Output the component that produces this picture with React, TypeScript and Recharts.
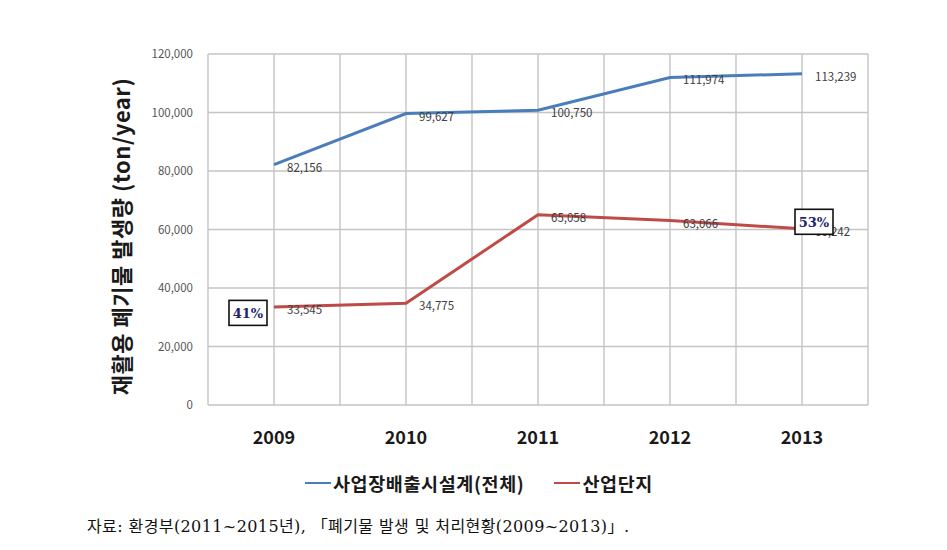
import React from "react";
import { LineChart, Line, XAxis, YAxis, CartesianGrid, Legend, LabelList } from "recharts";

const years = ["2009", "2010", "2011", "2012", "2013"];
const totalSeries = [82156, 99627, 100750, 111974, 113239];
const parkSeries = [33545, 34775, 65058, 63066, 60242];
const shareLabels = ["41%", "", "", "", "53%"];
const yTicks = [0, 20000, 40000, 60000, 80000, 100000, 120000];

const C = {
  blue: "#4a7ebb",
  red: "#be4b48",
  grid: "#c4c4c4",
  text: "#404040",
  navy: "#1f1f6e",
};
const FONT = "'Noto Sans CJK KR', 'Noto Sans', sans-serif";

const data = years.map((y, i) => ({ year: y, total: totalSeries[i], park: parkSeries[i], share: shareLabels[i] }));

const fmt = (v: number) => Number(v).toLocaleString("en-US");

// 값 라벨: 점의 오른쪽에 붙임
const valueLabel = (p: any) => {
  const { x, y, value } = p;
  return (
    <text x={x + 13} y={y + 2} dominantBaseline="central" fontSize={11.5} fill={C.text} fontFamily={FONT}>
      {fmt(value)}
    </text>
  );
};

// 비율 상자 (첫 점은 왼쪽, 마지막 점은 오른쪽 위)
const shareBox = (p: any) => {
  const { x, y, value, index } = p;
  if (!value) return null;
  const cx = index === 0 ? x - 26 : x + 12;
  const cy = index === 0 ? y + 6 : y - 7;
  return (
    <g>
      <rect x={cx - 19} y={cy - 12.5} width={38} height={25} fill="#fff" stroke="#111" strokeWidth={1.6} />
      <text x={cx} y={cy + 1} textAnchor="middle" dominantBaseline="central" fontSize={13} fontWeight="bold"
        fill={C.navy} fontFamily="'DejaVu Serif', serif">
        {value}
      </text>
    </g>
  );
};

const yLabel = (p: any) => {
  const vb = p.viewBox || {};
  const cx = vb.x + 32;
  const cy = vb.y + vb.height / 2 + 7;
  return (
    <text x={cx} y={cy} transform={`rotate(-90, ${cx}, ${cy})`} textAnchor="middle" dominantBaseline="central"
      fontSize={22} fontWeight="bold" fill="#1a1a1a" fontFamily={FONT} letterSpacing={0.5}>
      재활용 폐기물 발생량 (ton/year)
    </text>
  );
};

const legendContent = (p: any) => (
  <div style={{ display: "flex", alignItems: "center", fontFamily: FONT, fontSize: 18.5, fontWeight: "bold", color: "#1a1a1a", letterSpacing: 0.6 }}>
    {(p.payload || []).map((it: any) => (
      <div key={it.value} style={{ display: "flex", alignItems: "center", marginRight: 30 }}>
        <span style={{ display: "inline-block", width: 26, height: 2.5, background: it.color, marginRight: 2 }} />
        <span>{it.value}</span>
      </div>
    ))}
  </div>
);

export default function App() {
  return (
    <div style={{ position: "absolute", left: 0, top: 0, width: 947, height: 550, background: "#fff" }}>
      <LineChart width={947} height={550} data={data} margin={{ top: 54, right: 79, left: 88, bottom: 95 }}>
        <CartesianGrid
          stroke={C.grid}
          strokeWidth={1.4}
          verticalCoordinatesGenerator={({ offset }: any) =>
            Array.from({ length: 11 }, (_, i) => offset.left + (offset.width * i) / 10)
          }
        />
        <XAxis dataKey="year" padding={{ left: 66, right: 66 }} axisLine={false} tickLine={false} tickSize={0}
          tickMargin={26} height={50} tick={{ fontSize: 18, fontWeight: "bold", fill: "#1a1a1a", fontFamily: FONT }} />
        <YAxis width={120} domain={[0, 120000]} ticks={yTicks} tickFormatter={(v) => fmt(v)} axisLine={false}
          tickLine={false} tickSize={0} tickMargin={15} tick={{ fontSize: 11.5, fill: "#555", fontFamily: FONT }}
          label={{ content: yLabel }} />
        <Legend layout="horizontal" verticalAlign="middle" align="center" content={legendContent}
          wrapperStyle={{ top: 470, left: 305, width: "auto" }} />
        <Line dataKey="total" name="사업장배출시설계(전체)" stroke={C.blue} strokeWidth={3} dot={false}
          isAnimationActive={false}>
          <LabelList dataKey="total" content={valueLabel} />
        </Line>
        <Line dataKey="park" name="산업단지" stroke={C.red} strokeWidth={3} dot={false} isAnimationActive={false}>
          <LabelList dataKey="park" content={valueLabel} />
          <LabelList dataKey="share" content={shareBox} />
        </Line>
      </LineChart>
      <div style={{ position: "absolute", left: 87, top: 513, fontSize: 16, letterSpacing: 0.4, color: "#111", fontFamily: "'DejaVu Serif', 'Noto Sans CJK KR', serif", whiteSpace: "nowrap" }}>
        자료: 환경부(2011~2015년), 「폐기물 발생 및 처리현황(2009~2013)」.
      </div>
    </div>
  );
}
